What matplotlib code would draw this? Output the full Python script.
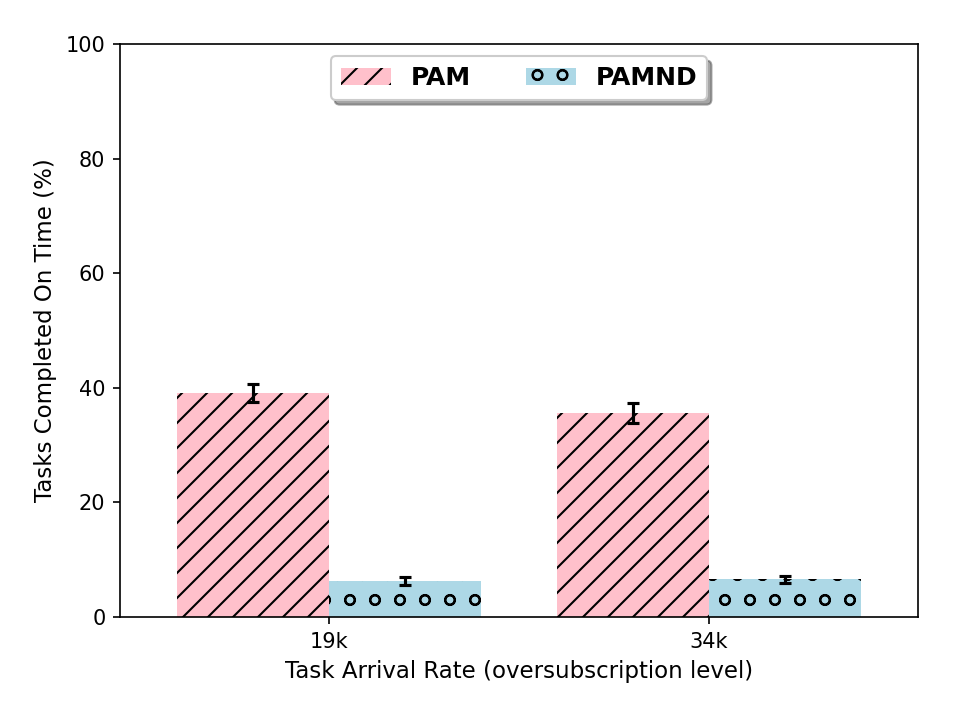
import numpy as np
import matplotlib
matplotlib.use("Agg")
import matplotlib.pyplot as plt

plt.rcParams['hatch.linewidth'] = 1.0

rates = ["19k", "34k"]
pam = [39.1, 35.6]
pam_err = [1.6, 1.7]
pamnd = [6.3, 6.6]
pamnd_err = [0.7, 0.6]

x = np.arange(len(rates))
width = 0.4

fig, ax = plt.subplots(figsize=(6.4, 4.8), dpi=150)
fig.subplots_adjust(left=0.125, right=0.956, top=0.939, bottom=0.143)

err_kw = dict(ecolor='black', elinewidth=1.5, capsize=3, capthick=1.5)
ax.bar(x - width / 2, pam, width, yerr=pam_err, color='pink', hatch='//',
       edgecolor='black', linewidth=0, label='PAM', error_kw=err_kw)
ax.bar(x + width / 2, pamnd, width, yerr=pamnd_err, color='lightblue', hatch='o',
       edgecolor='black', linewidth=0, label='PAMND', error_kw=err_kw)

ax.set_xticks(x)
ax.set_xticklabels(rates)
ax.set_xlim(-0.55, 1.55)
ax.set_ylim(0, 100)
ax.set_xlabel("Task Arrival Rate (oversubscription level)", fontsize=11)
ax.set_ylabel("Tasks Completed On Time (%)", fontsize=11)

ax.legend(loc='upper center', ncol=2, shadow=True, fancybox=True,
          prop={'weight': 'bold', 'size': 12}, columnspacing=2.2)

fig.savefig("out.png", dpi=150)
